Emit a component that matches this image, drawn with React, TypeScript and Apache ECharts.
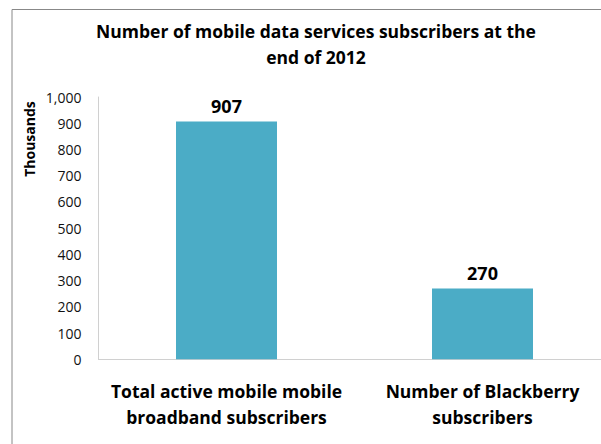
import React, { useEffect, useRef } from "react";
import * as echarts from "echarts";

const categories = [
  "Total active mobile mobile\nbroadband subscribers",
  "Number of Blackberry\nsubscribers",
];
const values = [907, 270];
const titleText = "Number of mobile data services subscribers at the\nend of 2012";
const yAxisName = "Thousands";

export default function App() {
  const ref = useRef<HTMLDivElement>(null);
  useEffect(() => {
    const chart = echarts.init(ref.current!, null, { renderer: "svg" });
    const font = "'Open Sans', Lato, sans-serif";
    chart.setOption({
      animation: false,
      backgroundColor: "#ffffff",
      textStyle: { fontFamily: font },
      title: {
        text: titleText,
        left: 316,
        top: 18,
        padding: 0,
        textAlign: "center",
        textStyle: {
          fontFamily: font,
          fontSize: 17.5,
          fontWeight: "bold",
          color: "#000",
          lineHeight: 26,
        },
      },
      graphic: [
        {
          type: "rect",
          shape: { x: 12, y: 9.5, width: 800, height: 600 },
          style: { fill: "none", stroke: "#888888", lineWidth: 1 },
          silent: true,
        },
        {
          type: "text",
          x: 29,
          y: 139,
          rotation: Math.PI / 2,
          style: {
            text: yAxisName,
            fontFamily: font,
            fontSize: 14,
            fontWeight: "bold",
            fill: "#000",
            textAlign: "center",
            textVerticalAlign: "middle",
          },
        },
      ],
      grid: {
        left: 98.5,
        top: 97,
        width: 512,
        height: 262.3,
        outerBoundsMode: "none",
        containLabel: false,
      },
      xAxis: {
        type: "category",
        data: categories,
        axisLine: { lineStyle: { color: "#d0d0d0", width: 1 } },
        axisTick: { show: false },
        axisLabel: {
          interval: 0,
          margin: 19,
          fontFamily: font,
          fontSize: 17.5,
          fontWeight: "bold",
          color: "#000",
          lineHeight: 26,
        },
      },
      yAxis: {
        type: "value",
        min: 0,
        max: 1000,
        interval: 100,
        splitLine: { show: false },
        axisLine: { show: true, lineStyle: { color: "#d0d0d0", width: 1 } },
        axisTick: { show: false },
        axisLabel: {
          margin: 17,
          fontFamily: font,
          fontSize: 14,
          color: "#111",
          formatter: (v: number) => v.toLocaleString("en-US"),
        },
      },
      series: [
        {
          type: "bar",
          data: values,
          barWidth: 101,
          itemStyle: { color: "#4bacc6" },
          label: {
            show: true,
            position: "top",
            distance: 6,
            fontFamily: font,
            fontSize: 18,
            fontWeight: "bold",
            color: "#000",
          },
        },
      ],
    });
    return () => chart.dispose();
  }, []);
  return (
    <div
      ref={ref}
      style={{ position: "fixed", left: 0, top: 0, width: 601, height: 444 }}
    />
  );
}
